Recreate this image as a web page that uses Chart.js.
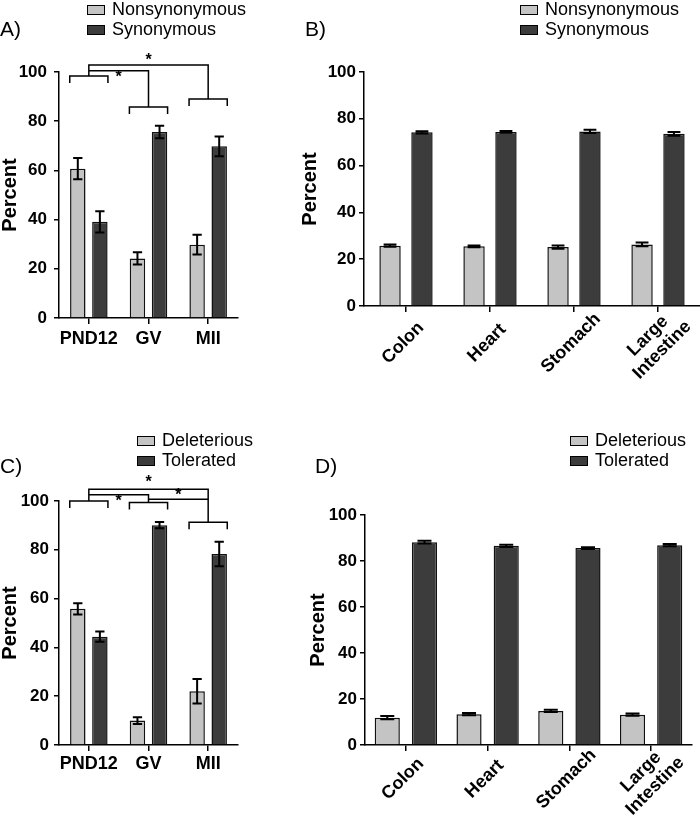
<!DOCTYPE html>
<html lang="en">
<head>
    <meta charset="UTF-8" />
    <title>Variant percentages</title>
    <script src="https://cdn.jsdelivr.net/npm/chart.js"></script>
    <style>
        body { margin: 0; background: #fff; overflow: hidden; }
        #wrap { position: relative; width: 700px; height: 822px; }
        canvas { position: absolute; }
    </style>
</head>
<body>
<div id="wrap">
    <canvas id="chartA" width="300" height="410" style="left:0;top:0"></canvas>
    <canvas id="chartB" width="405" height="410" style="left:295px;top:0"></canvas>
    <canvas id="chartC" width="300" height="412" style="left:0;top:410px"></canvas>
    <canvas id="chartD" width="405" height="412" style="left:295px;top:410px"></canvas>
</div>

<script>
    // ---- data ----
    var stageLabels = ['PND12', 'GV', 'MII'];
    var tissueLabels = ['Colon', 'Heart', 'Stomach', ['Large', 'Intestine']];
    var yTicks = [0, 20, 40, 60, 80, 100];

    // A) oocyte stages, nonsynonymous vs synonymous
    var aNonsyn = [60.7, 24.2, 29.8];
    var aNonsynErr = [4.3, 2.5, 4.0];
    var aSyn = [39.1, 75.6, 69.8];
    var aSynErr = [4.3, 2.5, 4.0];

    // B) somatic tissues, nonsynonymous vs synonymous
    var bNonsyn = [25.8, 25.5, 25.2, 26.3];
    var bNonsynErr = [0.5, 0.4, 0.7, 0.8];
    var bSyn = [74.2, 74.4, 74.6, 73.6];
    var bSynErr = [0.5, 0.4, 0.7, 0.8];

    // C) oocyte stages, deleterious vs tolerated
    var cDel = [55.8, 10.0, 22.0];
    var cDelErr = [2.3, 1.4, 5.0];
    var cTol = [44.4, 90.1, 78.3];
    var cTolErr = [2.1, 1.3, 5.0];

    // D) somatic tissues, deleterious vs tolerated
    var dDel = [11.9, 13.4, 14.8, 13.2];
    var dDelErr = [0.7, 0.5, 0.5, 0.5];
    var dTol = [88.2, 86.6, 85.6, 86.9];
    var dTolErr = [0.6, 0.5, 0.4, 0.5];

    // significance brackets (category index + y value)
    var aGroups = [{ cat: 0, y: 98.4 }, { cat: 1, y: 85.8 }, { cat: 2, y: 89.0 }];
    var aLinks = [
        { from: 0, to: 2, y: 102.8, starY: 106.5 },
        { from: 0, to: 1, y: 100.5, starY: 99.6 }
    ];
    var cGroups = [{ cat: 0, y: 100.0 }, { cat: 1, y: 99.4 }, { cat: 2, y: 91.3 }];
    var cLinks = [
        { from: 0, to: 2, y: 104.8, starY: 109.3 },
        { from: 0, to: 1, y: 102.6, starY: 101.6 },
        { from: 1, to: 2, y: 100.7, starY: 104.0 }
    ];

    var LIGHT = '#c4c4c4';
    var DARK = '#3c3c3c';
    var FONT = "'Liberation Sans', Arial, sans-serif";

    // error bars drawn from dataset.errors
    var errorBarPlugin = {
        id: 'errorBars',
        afterDatasetsDraw: function (chart) {
            var ctx = chart.ctx;
            var y = chart.scales.y;
            ctx.save();
            ctx.strokeStyle = '#000';
            ctx.lineWidth = 2;
            chart.data.datasets.forEach(function (ds, i) {
                var meta = chart.getDatasetMeta(i);
                meta.data.forEach(function (bar, j) {
                    var v = ds.data[j], e = ds.errors[j];
                    var x = bar.x;
                    var top = y.getPixelForValue(v + e);
                    var bot = y.getPixelForValue(v - e);
                    var cap = Math.min(7, bar.width * 0.3);
                    ctx.beginPath();
                    ctx.moveTo(x, top); ctx.lineTo(x, bot);
                    ctx.moveTo(x - cap, top); ctx.lineTo(x + cap, top);
                    ctx.moveTo(x - cap, bot); ctx.lineTo(x + cap, bot);
                    ctx.stroke();
                });
            });
            ctx.restore();
        }
    };

    // brackets with stars
    var bracketPlugin = {
        id: 'brackets',
        afterDatasetsDraw: function (chart, args, opts) {
            if (!opts.groups) return;
            var ctx = chart.ctx;
            var xs = chart.scales.x, ys = chart.scales.y;
            var catW = xs.width / chart.data.labels.length;
            var half = catW * opts.halfWidth;
            var groupY = {};
            ctx.save();
            ctx.strokeStyle = '#000';
            ctx.lineWidth = 1.5;
            ctx.beginPath();
            opts.groups.forEach(function (g) {
                var cx = xs.getPixelForValue(g.cat);
                var gy = ys.getPixelForValue(g.y);
                groupY[g.cat] = gy;
                ctx.moveTo(cx - half, gy + 7);
                ctx.lineTo(cx - half, gy);
                ctx.lineTo(cx + half, gy);
                ctx.lineTo(cx + half, gy + 7);
            });
            opts.links.forEach(function (l) {
                var x1 = xs.getPixelForValue(l.from);
                var x2 = xs.getPixelForValue(l.to);
                var ly = ys.getPixelForValue(l.y);
                ctx.moveTo(x1, groupY[l.from]);
                ctx.lineTo(x1, ly);
                ctx.lineTo(x2, ly);
                ctx.lineTo(x2, groupY[l.to]);
            });
            ctx.stroke();
            ctx.fillStyle = '#000';
            ctx.font = 'bold 16px ' + FONT;
            ctx.textAlign = 'center';
            ctx.textBaseline = 'alphabetic';
            opts.links.forEach(function (l) {
                var mx = (xs.getPixelForValue(l.from) + xs.getPixelForValue(l.to)) / 2;
                ctx.fillText('*', mx, ys.getPixelForValue(l.starY) + 9);
            });
            ctx.restore();
        }
    };

    // slanted category names, centred on the tick like the original
    var slantPlugin = {
        id: 'slant',
        afterDraw: function (chart, args, opts) {
            if (!opts.on) return;
            var ctx = chart.ctx;
            var xs = chart.scales.x;
            ctx.save();
            ctx.fillStyle = '#000';
            ctx.font = 'bold 18px ' + FONT;
            ctx.textAlign = 'center';
            ctx.textBaseline = 'middle';
            chart.data.labels.forEach(function (lab, i) {
                var lines = Array.isArray(lab) ? lab : [lab];
                ctx.save();
                ctx.translate(xs.getPixelForValue(i) - 3, xs.top + opts.drop);
                ctx.rotate(-Math.PI / 4);
                lines.forEach(function (t, k) {
                    ctx.fillText(t, 0, (k - (lines.length - 1) / 2) * 20);
                });
                ctx.restore();
            });
            ctx.restore();
        }
    };

    // legend + panel letter
    var keyPlugin = {
        id: 'key',
        afterDraw: function (chart, args, opts) {
            var ctx = chart.ctx;
            ctx.save();
            ctx.font = '18px ' + FONT;
            ctx.textBaseline = 'middle';
            ctx.textAlign = 'left';
            chart.data.datasets.forEach(function (ds, i) {
                var ry = opts.y + i * 20;
                ctx.fillStyle = ds.backgroundColor;
                ctx.fillRect(opts.x, ry - 4.5, 18, 9);
                ctx.strokeStyle = '#000';
                ctx.lineWidth = 1;
                ctx.strokeRect(opts.x + 0.5, ry - 4.5, 17, 9);
                ctx.fillStyle = '#000';
                ctx.fillText(ds.label, opts.x + 25, ry);
            });
            ctx.font = '21px ' + FONT;
            ctx.fillText(opts.letter, opts.letterX, opts.letterY);
            ctx.restore();
        }
    };

    function makeChart(id, cfg) {
        var ctx = document.getElementById(id).getContext('2d');
        return new Chart(ctx, {
            type: 'bar',
            data: {
                labels: cfg.labels,
                datasets: [
                    {
                        label: cfg.names[0], data: cfg.first, errors: cfg.firstErr,
                        backgroundColor: LIGHT, borderColor: '#111', borderWidth: 1.5,
                        categoryPercentage: cfg.catPct, barPercentage: cfg.barPct
                    },
                    {
                        label: cfg.names[1], data: cfg.second, errors: cfg.secondErr,
                        backgroundColor: DARK, borderColor: '#111', borderWidth: 1.5,
                        categoryPercentage: cfg.catPct, barPercentage: cfg.barPct
                    }
                ]
            },
            options: {
                responsive: false,
                animation: false,
                layout: { autoPadding: false, padding: { top: cfg.top, right: cfg.right, left: 0, bottom: 0 } },
                plugins: {
                    legend: { display: false },
                    tooltip: { enabled: false },
                    brackets: { groups: cfg.groups, links: cfg.links, halfWidth: 0.32 },
                    slant: { on: cfg.slant, drop: cfg.drop },
                    key: { x: cfg.keyX, y: cfg.keyY, letter: cfg.letter, letterX: cfg.letterX, letterY: cfg.letterY }
                },
                scales: {
                    x: {
                        grid: { display: true, offset: false, drawOnChartArea: false, tickLength: 6, color: '#000', lineWidth: 1.5 },
                        border: { display: true, color: '#000', width: 1.5 },
                        ticks: {
                            display: !cfg.slant,
                            color: '#000', autoSkip: false, maxRotation: 0,
                            font: { family: FONT, size: 18, weight: 'bold' },
                            padding: cfg.xPad
                        },
                        afterFit: function (s) { s.height = cfg.xHeight; }
                    },
                    y: {
                        min: 0, max: 100,
                        afterBuildTicks: function (s) { s.ticks = yTicks.map(function (v) { return { value: v }; }); },
                        grid: { display: true, drawOnChartArea: false, tickLength: 5, color: '#000', lineWidth: 1.5 },
                        border: { display: true, color: '#000', width: 1.5 },
                        ticks: { color: '#000', padding: cfg.yPad, font: { family: FONT, size: 17, weight: 'bold' } },
                        title: {
                            display: true, text: 'Percent', color: '#000',
                            font: { family: FONT, size: 20, weight: 'bold', lineHeight: 1 },
                            padding: { top: cfg.titlePad, bottom: 0 }
                        },
                        afterFit: function (s) { s.width = cfg.yWidth; }
                    }
                }
            },
            plugins: [errorBarPlugin, bracketPlugin, slantPlugin, keyPlugin]
        });
    }

    makeChart('chartA', {
        labels: stageLabels, names: ['Nonsynonymous', 'Synonymous'],
        first: aNonsyn, firstErr: aNonsynErr, second: aSyn, secondErr: aSynErr,
        catPct: 0.74, barPct: 0.7, top: 72, right: 62, xHeight: 92, yWidth: 59,
        yPad: 7, xPad: 4, slant: false, titlePad: 0,
        groups: aGroups, links: aLinks,
        keyX: 87, keyY: 10, letter: 'A)', letterX: 0, letterY: 30
    });

    makeChart('chartB', {
        labels: tissueLabels, names: ['Nonsynonymous', 'Synonymous'],
        first: bNonsyn, firstErr: bNonsynErr, second: bSyn, secondErr: bSynErr,
        catPct: 0.76, barPct: 0.67, top: 72, right: 0, xHeight: 104, yWidth: 69,
        yPad: 3, xPad: 8, slant: true, drop: 37, titlePad: 5,
        keyX: 225, keyY: 10, letter: 'B)', letterX: 10, letterY: 30
    });

    makeChart('chartC', {
        labels: stageLabels, names: ['Deleterious', 'Tolerated'],
        first: cDel, firstErr: cDelErr, second: cTol, secondErr: cTolErr,
        catPct: 0.74, barPct: 0.7, top: 91, right: 62, xHeight: 77, yWidth: 59,
        yPad: 5, xPad: 2, slant: false, titlePad: 0,
        groups: cGroups, links: cLinks,
        keyX: 137, keyY: 31, letter: 'C)', letterX: 0, letterY: 57
    });

    makeChart('chartD', {
        labels: tissueLabels, names: ['Deleterious', 'Tolerated'],
        first: dDel, firstErr: dDelErr, second: dTol, secondErr: dTolErr,
        catPct: 0.91, barPct: 0.676, top: 105, right: 8, xHeight: 77, yWidth: 70,
        yPad: 3, xPad: 2, slant: true, drop: 34, titlePad: 13,
        keyX: 275, keyY: 31, letter: 'D)', letterX: 20, letterY: 57
    });
</script>
</body>
</html>
